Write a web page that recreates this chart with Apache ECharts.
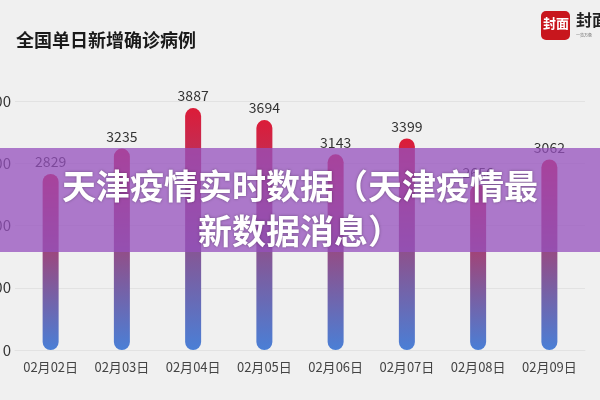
<!DOCTYPE html>
<html>
<head>
<meta charset="utf-8">
<script src="https://cdn.jsdelivr.net/npm/echarts@6/dist/echarts.min.js"></script>
<style>
html,body{margin:0;padding:0;background:#f0f0f0;}
#chart{width:600px;height:400px;}
</style>
</head>
<body>
<div id="chart"></div>
<script>
const categories = ['02月02日','02月03日','02月04日','02月05日','02月06日','02月07日','02月08日','02月09日'];
const values = [2829, 3235, 3887, 3694, 3143, 3399, 2656, 3062];
const yTicks = [0, 1000, 2000, 3000, 4000];
const titleText = '全国单日新增确诊病例';
const overlayLines = ['天津疫情实时数据（天津疫情最', '新数据消息）'];

const chart = echarts.init(document.getElementById('chart'));
const FONT = '"Noto Sans CJK SC", "Noto Sans", sans-serif';
chart.setOption({
  backgroundColor: '#f0f0f0',
  animation: false,
  title: {
    text: titleText, left: 11, top: 26,
    textStyle: { fontSize: 18, fontWeight: 'bold', color: '#1a1a1a', fontFamily: FONT }
  },
  grid: { left: 15, right: 15, top: 101, bottom: 50, containLabel: false, outerBoundsMode: 'none' },
  xAxis: {
    type: 'category', data: categories,
    axisLine: { show: true, lineStyle: { color: '#e2e2e2' } },
    axisTick: { show: false },
    axisLabel: { interval: 0, color: '#444', fontSize: 13, margin: 11, fontFamily: FONT }
  },
  yAxis: {
    type: 'value', min: yTicks[0], max: yTicks[yTicks.length - 1], interval: 1000,
    axisLine: { show: false }, axisTick: { show: false },
    splitLine: { lineStyle: { color: '#e2e2e2' } },
    axisLabel: { color: '#333', fontSize: 15, margin: 4, fontFamily: FONT, formatter: v => String(v) }
  },
  series: [{
    type: 'bar', data: values, barWidth: 16,
    itemStyle: {
      borderRadius: 8,
      color: new echarts.graphic.LinearGradient(0, 0, 0, 1, [
        { offset: 0, color: '#dc1c38' },
        { offset: 1, color: '#4a7fd6' }
      ])
    },
    label: { show: true, position: 'top', distance: 5, color: '#333', fontSize: 14, fontFamily: FONT }
  }],
  graphic: [
    { type: 'rect', left: 541, top: 11, z: 100, shape: { width: 29, height: 29, r: 5 }, style: { fill: '#c8161d' } },
    { type: 'text', left: 543, top: 17, z: 101, style: { text: '封面', fill: '#fff', font: 'bold 13px "Noto Sans CJK SC"' } },
    { type: 'text', left: 576, top: 12, z: 101, style: { text: '封面', fill: '#222', font: 'bold 16px "Noto Sans CJK SC"' } },
    { type: 'text', left: 576, top: 33, z: 101, style: { text: '一览万象', fill: '#666', font: '4px "Noto Sans CJK SC"' } },
    { type: 'rect', left: 0, top: 148, z: 200, shape: { width: 600, height: 104 }, style: { fill: 'rgba(150,80,190,0.75)' } },
    { type: 'text', z: 201, style: {
        x: 300, y: 186, text: overlayLines[0], fill: '#fff', align: 'center', verticalAlign: 'middle',
        font: 'bold 34px "Noto Sans CJK SC"', textShadowColor: 'rgba(0,0,0,0.35)', textShadowBlur: 3
    } },
    { type: 'text', z: 201, style: {
        x: 300, y: 231, text: overlayLines[1], fill: '#fff', align: 'center', verticalAlign: 'middle',
        font: 'bold 34px "Noto Sans CJK SC"', textShadowColor: 'rgba(0,0,0,0.35)', textShadowBlur: 3
    } }
  ]
});
</script>
</body>
</html>
